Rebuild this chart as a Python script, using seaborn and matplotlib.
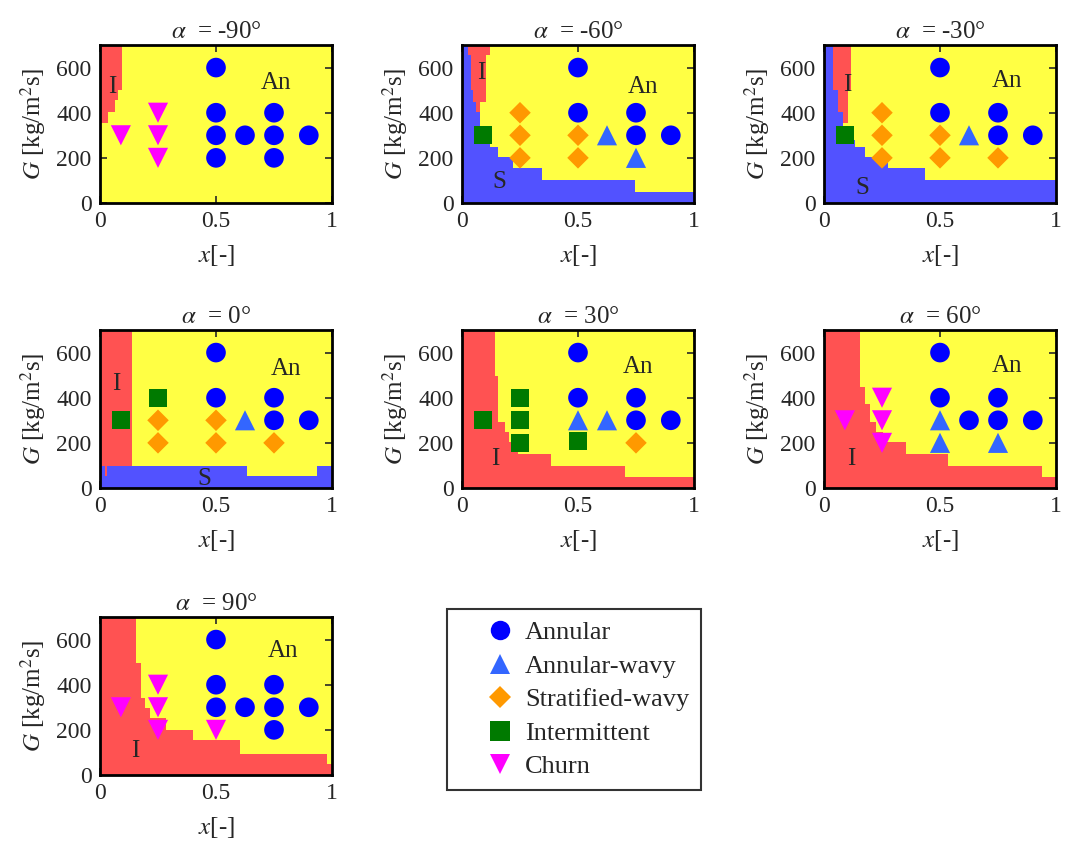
import numpy as np
import pandas as pd
import seaborn as sns
import matplotlib.pyplot as plt
from matplotlib.lines import Line2D
from matplotlib.legend_handler import HandlerLine2D

# Panel angles
angles = [-90, -60, -30, 0, 30, 60, 90]

# Regime colours / markers / sizes
regimes = ["Annular", "Annular-wavy", "Stratified-wavy", "Intermittent", "Churn"]
reg_colors = {"Annular": "#0000FF", "Annular-wavy": "#3366FF",
              "Stratified-wavy": "#FF9900", "Intermittent": "#007A00",
              "Churn": "#FF00FF"}
reg_markers = {"Annular": "o", "Annular-wavy": "^", "Stratified-wavy": "D",
               "Intermittent": "s", "Churn": "v"}
reg_sizes = {"Annular": 200, "Annular-wavy": 210, "Stratified-wavy": 120,
             "Intermittent": 170, "Churn": 210}

# Experimental points (x, G) per panel
pts_m90 = {"Annular": [(0.5, 600), (0.5, 400), (0.5, 300), (0.5, 200), (0.625, 300),
                       (0.75, 400), (0.75, 300), (0.75, 200), (0.9, 300)],
           "Churn": [(0.09, 300), (0.25, 400), (0.25, 300), (0.25, 200)]}
pts_m60 = {"Annular": [(0.5, 600), (0.5, 400), (0.75, 400), (0.75, 300), (0.9, 300)],
           "Annular-wavy": [(0.625, 300), (0.75, 200)],
           "Stratified-wavy": [(0.25, 400), (0.25, 300), (0.25, 200), (0.5, 300), (0.5, 200)],
           "Intermittent": [(0.09, 300)]}
pts_m30 = {"Annular": [(0.5, 600), (0.5, 400), (0.75, 400), (0.75, 300), (0.9, 300)],
           "Annular-wavy": [(0.625, 300)],
           "Stratified-wavy": [(0.25, 400), (0.25, 300), (0.25, 200), (0.5, 300),
                               (0.5, 200), (0.75, 200)],
           "Intermittent": [(0.09, 300)]}
pts_0 = {"Annular": [(0.5, 600), (0.5, 400), (0.75, 400), (0.75, 300), (0.9, 300)],
         "Annular-wavy": [(0.625, 300)],
         "Stratified-wavy": [(0.25, 300), (0.25, 200), (0.5, 300), (0.5, 200), (0.75, 200)],
         "Intermittent": [(0.09, 300), (0.25, 400)]}
pts_p30 = {"Annular": [(0.5, 600), (0.5, 400), (0.75, 400), (0.75, 300), (0.9, 300)],
           "Annular-wavy": [(0.5, 300), (0.625, 300)],
           "Stratified-wavy": [(0.75, 200)],
           "Intermittent": [(0.09, 300), (0.25, 400), (0.25, 300), (0.25, 200), (0.5, 210)]}
pts_p60 = {"Annular": [(0.5, 600), (0.5, 400), (0.625, 300), (0.75, 400), (0.75, 300), (0.9, 300)],
           "Annular-wavy": [(0.5, 300), (0.5, 200), (0.75, 200)],
           "Churn": [(0.09, 300), (0.25, 400), (0.25, 300), (0.25, 200)]}
pts_p90 = {"Annular": [(0.5, 600), (0.5, 400), (0.5, 300), (0.625, 300), (0.75, 400),
                       (0.75, 300), (0.75, 200), (0.9, 300)],
           "Churn": [(0.09, 300), (0.25, 400), (0.25, 300), (0.25, 200), (0.5, 200)]}
points = [pts_m90, pts_m60, pts_m30, pts_0, pts_p30, pts_p60, pts_p90]

# Intermittent (I) region: G edges and right boundary x for each band
i_G = [[353, 404, 456, 500, 700],
       [405, 449, 656, 700],
       [353, 501, 700],
       [0, 700],
       [0, 47, 99, 150, 202, 246, 291, 497, 700],
       [0, 47, 99, 150, 202, 246, 291, 372, 446, 700],
       [0, 48, 93, 153, 198, 251, 295, 340, 498, 700]]
i_x = [[0.036, 0.065, 0.079, 0.096],
       [0.076, 0.105, 0.119],
       [0.105, 0.116],
       [0.136],
       [1.0, 0.701, 0.385, 0.241, 0.201, 0.184, 0.155, 0.141],
       [1.0, 0.938, 0.534, 0.355, 0.254, 0.226, 0.198, 0.177, 0.155],
       [1.0, 0.978, 0.602, 0.399, 0.283, 0.217, 0.196, 0.178, 0.155]]

# Stratified (S) region: x edges and upper boundary G for each band
s_x = [None,
       [0, 0.026, 0.040, 0.047, 0.062, 0.076, 0.119, 0.155, 0.220, 0.345, 0.744, 1.0],
       [0, 0.040, 0.062, 0.083, 0.134, 0.177, 0.277, 0.435, 1.0],
       [0, 0.022, 0.031, 0.632, 0.934, 1.0],
       None, None, None]
s_G = [None,
       [700, 656, 501, 449, 405, 290, 250, 205, 154, 102, 50],
       [700, 501, 405, 280, 250, 205, 154, 102],
       [99, 51, 99, 51, 99],
       None, None, None]

# Region labels (text, x, G)
labels = [[("I", 0.055, 515), ("An", 0.76, 530)],
          [("I", 0.084, 575), ("S", 0.16, 95), ("An", 0.78, 515)],
          [("I", 0.10, 522), ("S", 0.163, 65), ("An", 0.79, 540)],
          [("I", 0.072, 460), ("S", 0.45, 40), ("An", 0.80, 527)],
          [("I", 0.144, 128), ("An", 0.76, 534)],
          [("I", 0.118, 128), ("An", 0.79, 540)],
          [("I", 0.15, 108), ("An", 0.79, 550)]]

YELLOW = "#FFFF44"
RED = "#FF5252"
BLUE = "#5252FF"

sns.set_style("ticks")
plt.rcParams["font.family"] = ["Liberation Serif", "DejaVu Serif"]
plt.rcParams["mathtext.fontset"] = "stix"

W, H = 1065, 849
fig = plt.figure(figsize=(W / 100, H / 100), dpi=100)

col_left = [100, 462, 824]
row_top = [45, 330, 617]
aw, ah = 232, 158
FS = 18

for k, ang in enumerate(angles):
    r, c = divmod(k, 3)
    ax = fig.add_axes([col_left[c] / W, 1 - (row_top[r] + ah) / H, aw / W, ah / H])
    ax.set_facecolor(YELLOW)

    g = i_G[k]
    xs = i_x[k] + [i_x[k][-1]]
    ax.fill_betweenx(g, 0, xs, step="post", color=RED, lw=0, zorder=1)
    if s_x[k] is not None:
        hs = s_G[k] + [s_G[k][-1]]
        ax.fill_between(s_x[k], 0, hs, step="post", color=BLUE, lw=0, zorder=2)

    rows = []
    for reg, pl in points[k].items():
        for (px, pg) in pl:
            rows.append({"x": px, "G": pg, "regime": reg})
    df = pd.DataFrame(rows)
    sns.scatterplot(data=df, x="x", y="G", hue="regime", style="regime", size="regime",
                    palette=reg_colors, markers=reg_markers, sizes=reg_sizes,
                    edgecolor="none", legend=False, ax=ax, zorder=3)

    for (txt, tx, ty) in labels[k]:
        ax.text(tx, ty, txt, ha="center", va="center", fontsize=FS, zorder=4)

    ax.set_xlim(0, 1)
    ax.set_ylim(0, 700)
    ax.set_xticks([0, 0.5, 1])
    ax.set_xticklabels(["0", "0.5", "1"])
    ax.set_yticks([0, 200, 400, 600])
    ax.tick_params(direction="in", top=True, right=True, length=5, width=1.2,
                   labelsize=17, pad=6)
    for sp in ax.spines.values():
        sp.set_linewidth(2)
        sp.set_color("black")
    ax.set_title(r"$\alpha$  = " + f"{ang}°", fontsize=FS, pad=5)
    ax.set_xlabel(r"$x$[-]", fontsize=FS, labelpad=8)
    ax.set_ylabel(r"$G$ [kg/m$^2$s]", fontsize=FS, labelpad=6)

handles = [Line2D([], [], ls="none", marker=reg_markers[rg], color=reg_colors[rg],
                  markersize=14 if rg != "Stratified-wavy" else 11, markeredgewidth=0)
           for rg in regimes]
leg = fig.legend(handles, regimes, loc="upper left",
                 bbox_to_anchor=(447 / W, 1 - 609 / H), fontsize=19,
                 frameon=True, fancybox=False, edgecolor="black",
                 labelspacing=0.38, handletextpad=0.5, borderpad=0.45,
                 handlelength=2.0, borderaxespad=0,
                 handler_map={Line2D: HandlerLine2D(xpad=1.1)})
leg.get_frame().set_linewidth(1.5)

fig.savefig("out.png", dpi=100)
